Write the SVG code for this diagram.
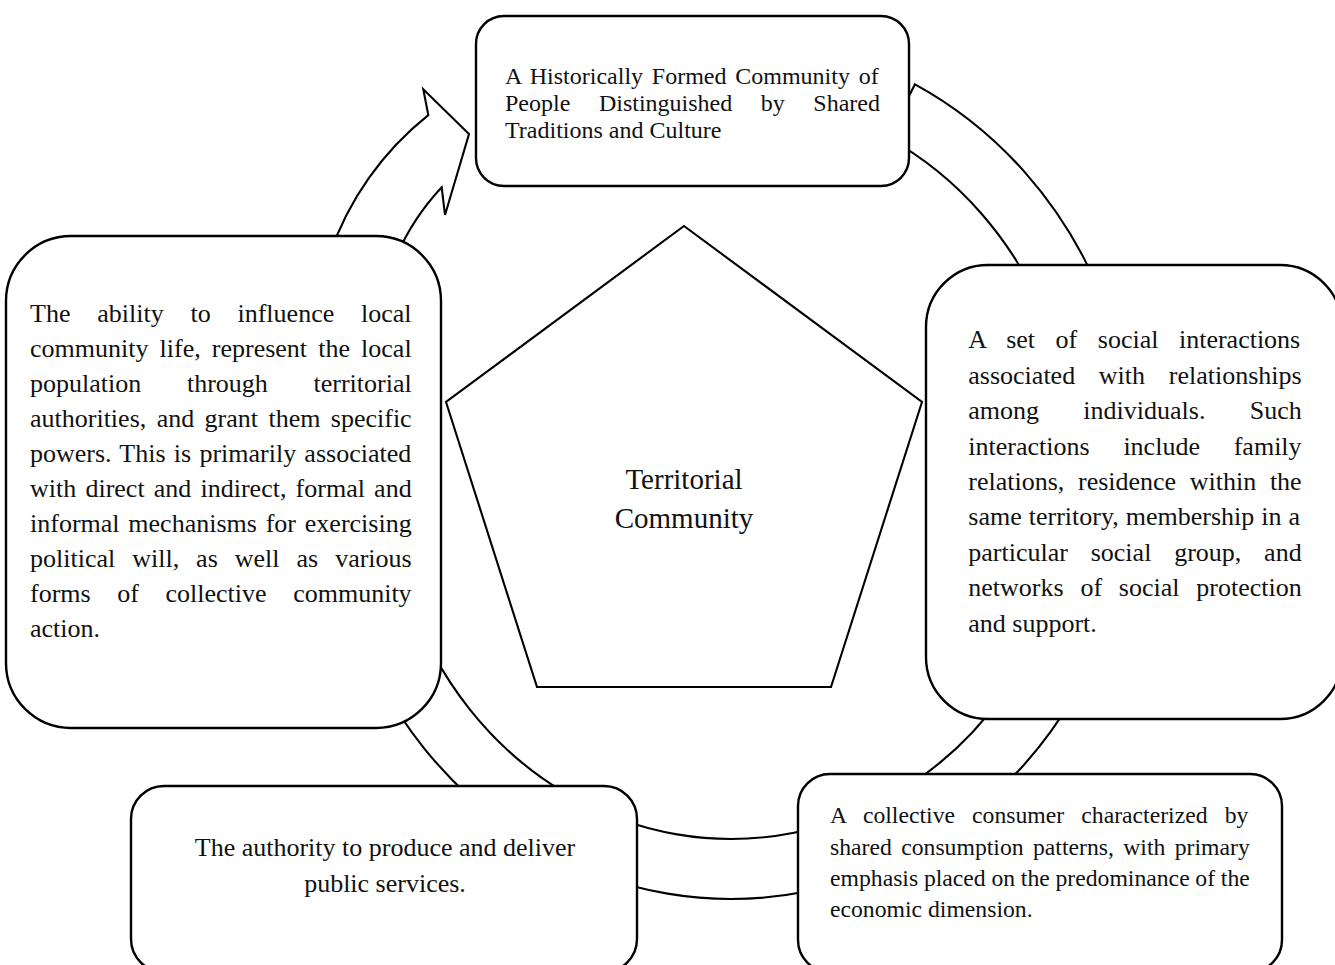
<svg xmlns="http://www.w3.org/2000/svg" width="1335" height="965" viewBox="0 0 1335 965">
<style>
.box{fill:#fff;stroke:#000;stroke-width:2.4}
.ring{fill:#fff;stroke:#000;stroke-width:2.1;stroke-linejoin:miter}
.pent{fill:#fff;stroke:#000;stroke-width:2.1}
text{font-family:'Liberation Serif','Times New Roman',serif;fill:#111}
.f26{font-size:26px}
.f24{font-size:24px}
.f237{font-size:23.7px}
.f29{font-size:29px}
.mid{text-anchor:middle}
</style>
<rect x="0" y="0" width="1335" height="965" fill="#fff"/>
<g id="connectors">
<path id="cycle-arrow" class="ring" d="M 915,84.3 A 404 431 0 1 1 327,468 L 323.4,432.9 A 305 305 0 0 1 428.3,115.1 L 423.3,89.3 L 469,134 L 445,215 L 441.7,187.3 A 242 242 0 0 0 385.2,416.4 L 387,468 A 344 371 0 1 0 887.7,137.7 Z"/>
</g>
<g id="node-center">
<polygon class="pent" points="684,226 922,402 831,687 537,687 446,402"/>
<text class="f29 mid" x="684" y="489">Territorial</text>
<text class="f29 mid" x="684" y="528">Community</text>
</g>
<g id="node-top">
<rect class="box" x="476" y="16" width="433" height="170" rx="28" ry="28"/>
<text class="f24" x="505" y="84" word-spacing="2.75">A Historically Formed Community of</text>
<text class="f24" x="505" y="111" word-spacing="22.56">People Distinguished by Shared</text>
<text class="f24" x="505" y="138">Traditions and Culture</text>
</g>
<g id="node-left">
<rect class="box" x="6" y="236" width="435" height="492" rx="65" ry="65"/>
<text class="f26" x="30" y="321.5" word-spacing="20.3">The ability to influence local</text>
<text class="f26" x="30" y="356.6" word-spacing="4.62">community life, represent the local</text>
<text class="f26" x="30" y="391.7" word-spacing="39.2">population through territorial</text>
<text class="f26" x="30" y="426.8" word-spacing="3.9">authorities, and grant them specific</text>
<text class="f26" x="30" y="461.9" word-spacing="1.73">powers. This is primarily associated</text>
<text class="f26" x="30" y="497" word-spacing="2.69">with direct and indirect, formal and</text>
<text class="f26" x="30" y="532.1" word-spacing="2.31">informal mechanisms for exercising</text>
<text class="f26" x="30" y="567.2" word-spacing="10.48">political will, as well as various</text>
<text class="f26" x="30" y="602.3" word-spacing="20.1">forms of collective community</text>
<text class="f26" x="30" y="637.4">action.</text>
</g>
<g id="node-right">
<rect class="box" x="926" y="265" width="416" height="454" rx="62" ry="62"/>
<text class="f26" x="968.3" y="348.3" word-spacing="14.03">A set of social interactions</text>
<text class="f26" x="968.3" y="383.7" word-spacing="17.2">associated with relationships</text>
<text class="f26" x="968.3" y="419.1" word-spacing="37.8">among individuals. Such</text>
<text class="f26" x="968.3" y="454.5" word-spacing="27.3">interactions include family</text>
<text class="f26" x="968.3" y="489.9" word-spacing="7.15">relations, residence within the</text>
<text class="f26" x="968.3" y="525.3" word-spacing="0.49">same territory, membership in a</text>
<text class="f26" x="968.3" y="560.7" word-spacing="16.3">particular social group, and</text>
<text class="f26" x="968.3" y="596.1" word-spacing="10.28">networks of social protection</text>
<text class="f26" x="968.3" y="631.5">and support.</text>
</g>
<g id="node-bottom-left">
<rect class="box" x="131" y="786" width="506" height="186" rx="33" ry="33"/>
<text class="f26 mid" x="385" y="856">The authority to produce and deliver</text>
<text class="f26 mid" x="385" y="892">public services.</text>
</g>
<g id="node-bottom-right">
<rect class="box" x="798" y="774" width="484" height="198" rx="32" ry="32"/>
<text class="f237" x="830" y="823.3" word-spacing="11.2">A collective consumer characterized by</text>
<text class="f237" x="830" y="854.5" word-spacing="3.46">shared consumption patterns, with primary</text>
<text class="f237" x="830" y="885.7" word-spacing="-0.2">emphasis placed on the predominance of the</text>
<text class="f237" x="830" y="917">economic dimension.</text>
</g>
</svg>
